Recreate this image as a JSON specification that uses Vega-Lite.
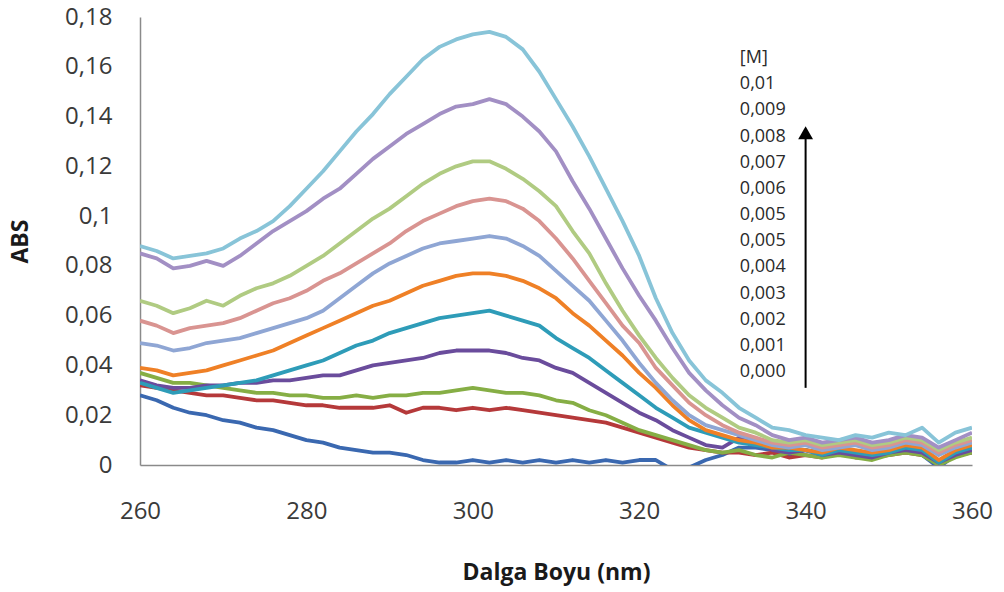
{
"$schema": "https://vega.github.io/schema/vega-lite/v6.json",
"width": 832, "height": 448,
"autosize": {"type": "none"},
"padding": {"left": 140, "top": 17, "right": 32, "bottom": 127},
"background": "white",
"config": {"view": {"stroke": null}, "font": "Open Sans"},
"datasets": {
"legend": [
{"rank":0,"label":"[M]"},{"rank":1,"label":"0,01"},{"rank":2,"label":"0,009"},{"rank":3,"label":"0,008"},{"rank":4,"label":"0,007"},{"rank":5,"label":"0,006"},{"rank":6,"label":"0,005"},{"rank":7,"label":"0,005"},{"rank":8,"label":"0,004"},{"rank":9,"label":"0,003"},{"rank":10,"label":"0,002"},{"rank":11,"label":"0,001"},{"rank":12,"label":"0,000"}
],
"spectra": [
{"c":"c0","nm":260,"abs":0.028},{"c":"c0","nm":262,"abs":0.026},{"c":"c0","nm":264,"abs":0.023},{"c":"c0","nm":266,"abs":0.021},{"c":"c0","nm":268,"abs":0.020},{"c":"c0","nm":270,"abs":0.018},{"c":"c0","nm":272,"abs":0.017},{"c":"c0","nm":274,"abs":0.015},{"c":"c0","nm":276,"abs":0.014},{"c":"c0","nm":278,"abs":0.012},{"c":"c0","nm":280,"abs":0.010},{"c":"c0","nm":282,"abs":0.009},{"c":"c0","nm":284,"abs":0.007},{"c":"c0","nm":286,"abs":0.006},{"c":"c0","nm":288,"abs":0.005},{"c":"c0","nm":290,"abs":0.005},{"c":"c0","nm":292,"abs":0.004},{"c":"c0","nm":294,"abs":0.002},{"c":"c0","nm":296,"abs":0.001},{"c":"c0","nm":298,"abs":0.001},{"c":"c0","nm":300,"abs":0.002},{"c":"c0","nm":302,"abs":0.001},{"c":"c0","nm":304,"abs":0.002},{"c":"c0","nm":306,"abs":0.001},{"c":"c0","nm":308,"abs":0.002},{"c":"c0","nm":310,"abs":0.001},{"c":"c0","nm":312,"abs":0.002},{"c":"c0","nm":314,"abs":0.001},{"c":"c0","nm":316,"abs":0.002},{"c":"c0","nm":318,"abs":0.001},{"c":"c0","nm":320,"abs":0.002},{"c":"c0","nm":322,"abs":0.002},{"c":"c0","nm":324,"abs":-0.002},{"c":"c0","nm":326,"abs":-0.001},{"c":"c0","nm":328,"abs":0.002},{"c":"c0","nm":330,"abs":0.004},{"c":"c0","nm":332,"abs":0.007},{"c":"c0","nm":334,"abs":0.007},{"c":"c0","nm":336,"abs":0.006},{"c":"c0","nm":338,"abs":0.004},{"c":"c0","nm":340,"abs":0.006},{"c":"c0","nm":342,"abs":0.005},{"c":"c0","nm":344,"abs":0.004},{"c":"c0","nm":346,"abs":0.005},{"c":"c0","nm":348,"abs":0.004},{"c":"c0","nm":350,"abs":0.005},{"c":"c0","nm":352,"abs":0.006},{"c":"c0","nm":354,"abs":0.004},{"c":"c0","nm":356,"abs":-0.001},{"c":"c0","nm":358,"abs":0.004},{"c":"c0","nm":360,"abs":0.005},
{"c":"c1","nm":260,"abs":0.032},{"c":"c1","nm":262,"abs":0.031},{"c":"c1","nm":264,"abs":0.030},{"c":"c1","nm":266,"abs":0.029},{"c":"c1","nm":268,"abs":0.028},{"c":"c1","nm":270,"abs":0.028},{"c":"c1","nm":272,"abs":0.027},{"c":"c1","nm":274,"abs":0.026},{"c":"c1","nm":276,"abs":0.026},{"c":"c1","nm":278,"abs":0.025},{"c":"c1","nm":280,"abs":0.024},{"c":"c1","nm":282,"abs":0.024},{"c":"c1","nm":284,"abs":0.023},{"c":"c1","nm":286,"abs":0.023},{"c":"c1","nm":288,"abs":0.023},{"c":"c1","nm":290,"abs":0.024},{"c":"c1","nm":292,"abs":0.021},{"c":"c1","nm":294,"abs":0.023},{"c":"c1","nm":296,"abs":0.023},{"c":"c1","nm":298,"abs":0.022},{"c":"c1","nm":300,"abs":0.023},{"c":"c1","nm":302,"abs":0.022},{"c":"c1","nm":304,"abs":0.023},{"c":"c1","nm":306,"abs":0.022},{"c":"c1","nm":308,"abs":0.021},{"c":"c1","nm":310,"abs":0.020},{"c":"c1","nm":312,"abs":0.019},{"c":"c1","nm":314,"abs":0.018},{"c":"c1","nm":316,"abs":0.017},{"c":"c1","nm":318,"abs":0.015},{"c":"c1","nm":320,"abs":0.013},{"c":"c1","nm":322,"abs":0.011},{"c":"c1","nm":324,"abs":0.009},{"c":"c1","nm":326,"abs":0.007},{"c":"c1","nm":328,"abs":0.006},{"c":"c1","nm":330,"abs":0.005},{"c":"c1","nm":332,"abs":0.005},{"c":"c1","nm":334,"abs":0.004},{"c":"c1","nm":336,"abs":0.005},{"c":"c1","nm":338,"abs":0.003},{"c":"c1","nm":340,"abs":0.004},{"c":"c1","nm":342,"abs":0.003},{"c":"c1","nm":344,"abs":0.005},{"c":"c1","nm":346,"abs":0.003},{"c":"c1","nm":348,"abs":0.003},{"c":"c1","nm":350,"abs":0.004},{"c":"c1","nm":352,"abs":0.005},{"c":"c1","nm":354,"abs":0.004},{"c":"c1","nm":356,"abs":0.001},{"c":"c1","nm":358,"abs":0.004},{"c":"c1","nm":360,"abs":0.005},
{"c":"c2","nm":260,"abs":0.037},{"c":"c2","nm":262,"abs":0.035},{"c":"c2","nm":264,"abs":0.033},{"c":"c2","nm":266,"abs":0.033},{"c":"c2","nm":268,"abs":0.032},{"c":"c2","nm":270,"abs":0.031},{"c":"c2","nm":272,"abs":0.030},{"c":"c2","nm":274,"abs":0.029},{"c":"c2","nm":276,"abs":0.029},{"c":"c2","nm":278,"abs":0.028},{"c":"c2","nm":280,"abs":0.028},{"c":"c2","nm":282,"abs":0.027},{"c":"c2","nm":284,"abs":0.027},{"c":"c2","nm":286,"abs":0.028},{"c":"c2","nm":288,"abs":0.027},{"c":"c2","nm":290,"abs":0.028},{"c":"c2","nm":292,"abs":0.028},{"c":"c2","nm":294,"abs":0.029},{"c":"c2","nm":296,"abs":0.029},{"c":"c2","nm":298,"abs":0.030},{"c":"c2","nm":300,"abs":0.031},{"c":"c2","nm":302,"abs":0.030},{"c":"c2","nm":304,"abs":0.029},{"c":"c2","nm":306,"abs":0.029},{"c":"c2","nm":308,"abs":0.028},{"c":"c2","nm":310,"abs":0.026},{"c":"c2","nm":312,"abs":0.025},{"c":"c2","nm":314,"abs":0.022},{"c":"c2","nm":316,"abs":0.020},{"c":"c2","nm":318,"abs":0.017},{"c":"c2","nm":320,"abs":0.014},{"c":"c2","nm":322,"abs":0.012},{"c":"c2","nm":324,"abs":0.010},{"c":"c2","nm":326,"abs":0.008},{"c":"c2","nm":328,"abs":0.006},{"c":"c2","nm":330,"abs":0.005},{"c":"c2","nm":332,"abs":0.006},{"c":"c2","nm":334,"abs":0.004},{"c":"c2","nm":336,"abs":0.003},{"c":"c2","nm":338,"abs":0.005},{"c":"c2","nm":340,"abs":0.004},{"c":"c2","nm":342,"abs":0.003},{"c":"c2","nm":344,"abs":0.004},{"c":"c2","nm":346,"abs":0.003},{"c":"c2","nm":348,"abs":0.002},{"c":"c2","nm":350,"abs":0.004},{"c":"c2","nm":352,"abs":0.005},{"c":"c2","nm":354,"abs":0.004},{"c":"c2","nm":356,"abs":0.000},{"c":"c2","nm":358,"abs":0.003},{"c":"c2","nm":360,"abs":0.005},
{"c":"c3","nm":260,"abs":0.034},{"c":"c3","nm":262,"abs":0.032},{"c":"c3","nm":264,"abs":0.031},{"c":"c3","nm":266,"abs":0.031},{"c":"c3","nm":268,"abs":0.032},{"c":"c3","nm":270,"abs":0.032},{"c":"c3","nm":272,"abs":0.033},{"c":"c3","nm":274,"abs":0.033},{"c":"c3","nm":276,"abs":0.034},{"c":"c3","nm":278,"abs":0.034},{"c":"c3","nm":280,"abs":0.035},{"c":"c3","nm":282,"abs":0.036},{"c":"c3","nm":284,"abs":0.036},{"c":"c3","nm":286,"abs":0.038},{"c":"c3","nm":288,"abs":0.040},{"c":"c3","nm":290,"abs":0.041},{"c":"c3","nm":292,"abs":0.042},{"c":"c3","nm":294,"abs":0.043},{"c":"c3","nm":296,"abs":0.045},{"c":"c3","nm":298,"abs":0.046},{"c":"c3","nm":300,"abs":0.046},{"c":"c3","nm":302,"abs":0.046},{"c":"c3","nm":304,"abs":0.045},{"c":"c3","nm":306,"abs":0.043},{"c":"c3","nm":308,"abs":0.042},{"c":"c3","nm":310,"abs":0.039},{"c":"c3","nm":312,"abs":0.037},{"c":"c3","nm":314,"abs":0.033},{"c":"c3","nm":316,"abs":0.029},{"c":"c3","nm":318,"abs":0.025},{"c":"c3","nm":320,"abs":0.021},{"c":"c3","nm":322,"abs":0.018},{"c":"c3","nm":324,"abs":0.014},{"c":"c3","nm":326,"abs":0.011},{"c":"c3","nm":328,"abs":0.008},{"c":"c3","nm":330,"abs":0.007},{"c":"c3","nm":332,"abs":0.011},{"c":"c3","nm":334,"abs":0.009},{"c":"c3","nm":336,"abs":0.006},{"c":"c3","nm":338,"abs":0.005},{"c":"c3","nm":340,"abs":0.006},{"c":"c3","nm":342,"abs":0.004},{"c":"c3","nm":344,"abs":0.005},{"c":"c3","nm":346,"abs":0.004},{"c":"c3","nm":348,"abs":0.003},{"c":"c3","nm":350,"abs":0.005},{"c":"c3","nm":352,"abs":0.006},{"c":"c3","nm":354,"abs":0.005},{"c":"c3","nm":356,"abs":0.001},{"c":"c3","nm":358,"abs":0.004},{"c":"c3","nm":360,"abs":0.006},
{"c":"c4","nm":260,"abs":0.033},{"c":"c4","nm":262,"abs":0.031},{"c":"c4","nm":264,"abs":0.029},{"c":"c4","nm":266,"abs":0.030},{"c":"c4","nm":268,"abs":0.031},{"c":"c4","nm":270,"abs":0.032},{"c":"c4","nm":272,"abs":0.033},{"c":"c4","nm":274,"abs":0.034},{"c":"c4","nm":276,"abs":0.036},{"c":"c4","nm":278,"abs":0.038},{"c":"c4","nm":280,"abs":0.040},{"c":"c4","nm":282,"abs":0.042},{"c":"c4","nm":284,"abs":0.045},{"c":"c4","nm":286,"abs":0.048},{"c":"c4","nm":288,"abs":0.050},{"c":"c4","nm":290,"abs":0.053},{"c":"c4","nm":292,"abs":0.055},{"c":"c4","nm":294,"abs":0.057},{"c":"c4","nm":296,"abs":0.059},{"c":"c4","nm":298,"abs":0.060},{"c":"c4","nm":300,"abs":0.061},{"c":"c4","nm":302,"abs":0.062},{"c":"c4","nm":304,"abs":0.060},{"c":"c4","nm":306,"abs":0.058},{"c":"c4","nm":308,"abs":0.056},{"c":"c4","nm":310,"abs":0.051},{"c":"c4","nm":312,"abs":0.047},{"c":"c4","nm":314,"abs":0.043},{"c":"c4","nm":316,"abs":0.038},{"c":"c4","nm":318,"abs":0.033},{"c":"c4","nm":320,"abs":0.028},{"c":"c4","nm":322,"abs":0.023},{"c":"c4","nm":324,"abs":0.019},{"c":"c4","nm":326,"abs":0.015},{"c":"c4","nm":328,"abs":0.013},{"c":"c4","nm":330,"abs":0.011},{"c":"c4","nm":332,"abs":0.009},{"c":"c4","nm":334,"abs":0.008},{"c":"c4","nm":336,"abs":0.007},{"c":"c4","nm":338,"abs":0.006},{"c":"c4","nm":340,"abs":0.006},{"c":"c4","nm":342,"abs":0.004},{"c":"c4","nm":344,"abs":0.006},{"c":"c4","nm":346,"abs":0.005},{"c":"c4","nm":348,"abs":0.004},{"c":"c4","nm":350,"abs":0.005},{"c":"c4","nm":352,"abs":0.007},{"c":"c4","nm":354,"abs":0.006},{"c":"c4","nm":356,"abs":0.001},{"c":"c4","nm":358,"abs":0.005},{"c":"c4","nm":360,"abs":0.007},
{"c":"c5","nm":260,"abs":0.039},{"c":"c5","nm":262,"abs":0.038},{"c":"c5","nm":264,"abs":0.036},{"c":"c5","nm":266,"abs":0.037},{"c":"c5","nm":268,"abs":0.038},{"c":"c5","nm":270,"abs":0.040},{"c":"c5","nm":272,"abs":0.042},{"c":"c5","nm":274,"abs":0.044},{"c":"c5","nm":276,"abs":0.046},{"c":"c5","nm":278,"abs":0.049},{"c":"c5","nm":280,"abs":0.052},{"c":"c5","nm":282,"abs":0.055},{"c":"c5","nm":284,"abs":0.058},{"c":"c5","nm":286,"abs":0.061},{"c":"c5","nm":288,"abs":0.064},{"c":"c5","nm":290,"abs":0.066},{"c":"c5","nm":292,"abs":0.069},{"c":"c5","nm":294,"abs":0.072},{"c":"c5","nm":296,"abs":0.074},{"c":"c5","nm":298,"abs":0.076},{"c":"c5","nm":300,"abs":0.077},{"c":"c5","nm":302,"abs":0.077},{"c":"c5","nm":304,"abs":0.076},{"c":"c5","nm":306,"abs":0.074},{"c":"c5","nm":308,"abs":0.071},{"c":"c5","nm":310,"abs":0.067},{"c":"c5","nm":312,"abs":0.061},{"c":"c5","nm":314,"abs":0.056},{"c":"c5","nm":316,"abs":0.050},{"c":"c5","nm":318,"abs":0.044},{"c":"c5","nm":320,"abs":0.037},{"c":"c5","nm":322,"abs":0.031},{"c":"c5","nm":324,"abs":0.024},{"c":"c5","nm":326,"abs":0.018},{"c":"c5","nm":328,"abs":0.014},{"c":"c5","nm":330,"abs":0.012},{"c":"c5","nm":332,"abs":0.010},{"c":"c5","nm":334,"abs":0.009},{"c":"c5","nm":336,"abs":0.007},{"c":"c5","nm":338,"abs":0.007},{"c":"c5","nm":340,"abs":0.006},{"c":"c5","nm":342,"abs":0.005},{"c":"c5","nm":344,"abs":0.007},{"c":"c5","nm":346,"abs":0.006},{"c":"c5","nm":348,"abs":0.005},{"c":"c5","nm":350,"abs":0.006},{"c":"c5","nm":352,"abs":0.008},{"c":"c5","nm":354,"abs":0.007},{"c":"c5","nm":356,"abs":0.002},{"c":"c5","nm":358,"abs":0.006},{"c":"c5","nm":360,"abs":0.008},
{"c":"c6","nm":260,"abs":0.049},{"c":"c6","nm":262,"abs":0.048},{"c":"c6","nm":264,"abs":0.046},{"c":"c6","nm":266,"abs":0.047},{"c":"c6","nm":268,"abs":0.049},{"c":"c6","nm":270,"abs":0.050},{"c":"c6","nm":272,"abs":0.051},{"c":"c6","nm":274,"abs":0.053},{"c":"c6","nm":276,"abs":0.055},{"c":"c6","nm":278,"abs":0.057},{"c":"c6","nm":280,"abs":0.059},{"c":"c6","nm":282,"abs":0.062},{"c":"c6","nm":284,"abs":0.067},{"c":"c6","nm":286,"abs":0.072},{"c":"c6","nm":288,"abs":0.077},{"c":"c6","nm":290,"abs":0.081},{"c":"c6","nm":292,"abs":0.084},{"c":"c6","nm":294,"abs":0.087},{"c":"c6","nm":296,"abs":0.089},{"c":"c6","nm":298,"abs":0.090},{"c":"c6","nm":300,"abs":0.091},{"c":"c6","nm":302,"abs":0.092},{"c":"c6","nm":304,"abs":0.091},{"c":"c6","nm":306,"abs":0.088},{"c":"c6","nm":308,"abs":0.084},{"c":"c6","nm":310,"abs":0.078},{"c":"c6","nm":312,"abs":0.072},{"c":"c6","nm":314,"abs":0.066},{"c":"c6","nm":316,"abs":0.058},{"c":"c6","nm":318,"abs":0.050},{"c":"c6","nm":320,"abs":0.041},{"c":"c6","nm":322,"abs":0.033},{"c":"c6","nm":324,"abs":0.026},{"c":"c6","nm":326,"abs":0.020},{"c":"c6","nm":328,"abs":0.016},{"c":"c6","nm":330,"abs":0.014},{"c":"c6","nm":332,"abs":0.012},{"c":"c6","nm":334,"abs":0.010},{"c":"c6","nm":336,"abs":0.008},{"c":"c6","nm":338,"abs":0.007},{"c":"c6","nm":340,"abs":0.008},{"c":"c6","nm":342,"abs":0.006},{"c":"c6","nm":344,"abs":0.007},{"c":"c6","nm":346,"abs":0.008},{"c":"c6","nm":348,"abs":0.006},{"c":"c6","nm":350,"abs":0.007},{"c":"c6","nm":352,"abs":0.009},{"c":"c6","nm":354,"abs":0.008},{"c":"c6","nm":356,"abs":0.004},{"c":"c6","nm":358,"abs":0.007},{"c":"c6","nm":360,"abs":0.009},
{"c":"c7","nm":260,"abs":0.058},{"c":"c7","nm":262,"abs":0.056},{"c":"c7","nm":264,"abs":0.053},{"c":"c7","nm":266,"abs":0.055},{"c":"c7","nm":268,"abs":0.056},{"c":"c7","nm":270,"abs":0.057},{"c":"c7","nm":272,"abs":0.059},{"c":"c7","nm":274,"abs":0.062},{"c":"c7","nm":276,"abs":0.065},{"c":"c7","nm":278,"abs":0.067},{"c":"c7","nm":280,"abs":0.070},{"c":"c7","nm":282,"abs":0.074},{"c":"c7","nm":284,"abs":0.077},{"c":"c7","nm":286,"abs":0.081},{"c":"c7","nm":288,"abs":0.085},{"c":"c7","nm":290,"abs":0.089},{"c":"c7","nm":292,"abs":0.094},{"c":"c7","nm":294,"abs":0.098},{"c":"c7","nm":296,"abs":0.101},{"c":"c7","nm":298,"abs":0.104},{"c":"c7","nm":300,"abs":0.106},{"c":"c7","nm":302,"abs":0.107},{"c":"c7","nm":304,"abs":0.106},{"c":"c7","nm":306,"abs":0.103},{"c":"c7","nm":308,"abs":0.098},{"c":"c7","nm":310,"abs":0.091},{"c":"c7","nm":312,"abs":0.083},{"c":"c7","nm":314,"abs":0.074},{"c":"c7","nm":316,"abs":0.065},{"c":"c7","nm":318,"abs":0.056},{"c":"c7","nm":320,"abs":0.049},{"c":"c7","nm":322,"abs":0.039},{"c":"c7","nm":324,"abs":0.032},{"c":"c7","nm":326,"abs":0.025},{"c":"c7","nm":328,"abs":0.020},{"c":"c7","nm":330,"abs":0.016},{"c":"c7","nm":332,"abs":0.013},{"c":"c7","nm":334,"abs":0.011},{"c":"c7","nm":336,"abs":0.009},{"c":"c7","nm":338,"abs":0.008},{"c":"c7","nm":340,"abs":0.009},{"c":"c7","nm":342,"abs":0.007},{"c":"c7","nm":344,"abs":0.008},{"c":"c7","nm":346,"abs":0.009},{"c":"c7","nm":348,"abs":0.007},{"c":"c7","nm":350,"abs":0.008},{"c":"c7","nm":352,"abs":0.010},{"c":"c7","nm":354,"abs":0.009},{"c":"c7","nm":356,"abs":0.005},{"c":"c7","nm":358,"abs":0.008},{"c":"c7","nm":360,"abs":0.010},
{"c":"c8","nm":260,"abs":0.066},{"c":"c8","nm":262,"abs":0.064},{"c":"c8","nm":264,"abs":0.061},{"c":"c8","nm":266,"abs":0.063},{"c":"c8","nm":268,"abs":0.066},{"c":"c8","nm":270,"abs":0.064},{"c":"c8","nm":272,"abs":0.068},{"c":"c8","nm":274,"abs":0.071},{"c":"c8","nm":276,"abs":0.073},{"c":"c8","nm":278,"abs":0.076},{"c":"c8","nm":280,"abs":0.080},{"c":"c8","nm":282,"abs":0.084},{"c":"c8","nm":284,"abs":0.089},{"c":"c8","nm":286,"abs":0.094},{"c":"c8","nm":288,"abs":0.099},{"c":"c8","nm":290,"abs":0.103},{"c":"c8","nm":292,"abs":0.108},{"c":"c8","nm":294,"abs":0.113},{"c":"c8","nm":296,"abs":0.117},{"c":"c8","nm":298,"abs":0.120},{"c":"c8","nm":300,"abs":0.122},{"c":"c8","nm":302,"abs":0.122},{"c":"c8","nm":304,"abs":0.119},{"c":"c8","nm":306,"abs":0.115},{"c":"c8","nm":308,"abs":0.110},{"c":"c8","nm":310,"abs":0.104},{"c":"c8","nm":312,"abs":0.094},{"c":"c8","nm":314,"abs":0.085},{"c":"c8","nm":316,"abs":0.073},{"c":"c8","nm":318,"abs":0.062},{"c":"c8","nm":320,"abs":0.052},{"c":"c8","nm":322,"abs":0.043},{"c":"c8","nm":324,"abs":0.035},{"c":"c8","nm":326,"abs":0.028},{"c":"c8","nm":328,"abs":0.023},{"c":"c8","nm":330,"abs":0.019},{"c":"c8","nm":332,"abs":0.015},{"c":"c8","nm":334,"abs":0.013},{"c":"c8","nm":336,"abs":0.010},{"c":"c8","nm":338,"abs":0.009},{"c":"c8","nm":340,"abs":0.010},{"c":"c8","nm":342,"abs":0.008},{"c":"c8","nm":344,"abs":0.009},{"c":"c8","nm":346,"abs":0.010},{"c":"c8","nm":348,"abs":0.008},{"c":"c8","nm":350,"abs":0.009},{"c":"c8","nm":352,"abs":0.011},{"c":"c8","nm":354,"abs":0.010},{"c":"c8","nm":356,"abs":0.006},{"c":"c8","nm":358,"abs":0.009},{"c":"c8","nm":360,"abs":0.011},
{"c":"c9","nm":260,"abs":0.085},{"c":"c9","nm":262,"abs":0.083},{"c":"c9","nm":264,"abs":0.079},{"c":"c9","nm":266,"abs":0.080},{"c":"c9","nm":268,"abs":0.082},{"c":"c9","nm":270,"abs":0.080},{"c":"c9","nm":272,"abs":0.084},{"c":"c9","nm":274,"abs":0.089},{"c":"c9","nm":276,"abs":0.094},{"c":"c9","nm":278,"abs":0.098},{"c":"c9","nm":280,"abs":0.102},{"c":"c9","nm":282,"abs":0.107},{"c":"c9","nm":284,"abs":0.111},{"c":"c9","nm":286,"abs":0.117},{"c":"c9","nm":288,"abs":0.123},{"c":"c9","nm":290,"abs":0.128},{"c":"c9","nm":292,"abs":0.133},{"c":"c9","nm":294,"abs":0.137},{"c":"c9","nm":296,"abs":0.141},{"c":"c9","nm":298,"abs":0.144},{"c":"c9","nm":300,"abs":0.145},{"c":"c9","nm":302,"abs":0.147},{"c":"c9","nm":304,"abs":0.145},{"c":"c9","nm":306,"abs":0.140},{"c":"c9","nm":308,"abs":0.134},{"c":"c9","nm":310,"abs":0.126},{"c":"c9","nm":312,"abs":0.114},{"c":"c9","nm":314,"abs":0.103},{"c":"c9","nm":316,"abs":0.091},{"c":"c9","nm":318,"abs":0.079},{"c":"c9","nm":320,"abs":0.068},{"c":"c9","nm":322,"abs":0.058},{"c":"c9","nm":324,"abs":0.047},{"c":"c9","nm":326,"abs":0.037},{"c":"c9","nm":328,"abs":0.030},{"c":"c9","nm":330,"abs":0.024},{"c":"c9","nm":332,"abs":0.019},{"c":"c9","nm":334,"abs":0.016},{"c":"c9","nm":336,"abs":0.012},{"c":"c9","nm":338,"abs":0.010},{"c":"c9","nm":340,"abs":0.011},{"c":"c9","nm":342,"abs":0.009},{"c":"c9","nm":344,"abs":0.010},{"c":"c9","nm":346,"abs":0.011},{"c":"c9","nm":348,"abs":0.009},{"c":"c9","nm":350,"abs":0.010},{"c":"c9","nm":352,"abs":0.012},{"c":"c9","nm":354,"abs":0.011},{"c":"c9","nm":356,"abs":0.007},{"c":"c9","nm":358,"abs":0.010},{"c":"c9","nm":360,"abs":0.013},
{"c":"c10","nm":260,"abs":0.088},{"c":"c10","nm":262,"abs":0.086},{"c":"c10","nm":264,"abs":0.083},{"c":"c10","nm":266,"abs":0.084},{"c":"c10","nm":268,"abs":0.085},{"c":"c10","nm":270,"abs":0.087},{"c":"c10","nm":272,"abs":0.091},{"c":"c10","nm":274,"abs":0.094},{"c":"c10","nm":276,"abs":0.098},{"c":"c10","nm":278,"abs":0.104},{"c":"c10","nm":280,"abs":0.111},{"c":"c10","nm":282,"abs":0.118},{"c":"c10","nm":284,"abs":0.126},{"c":"c10","nm":286,"abs":0.134},{"c":"c10","nm":288,"abs":0.141},{"c":"c10","nm":290,"abs":0.149},{"c":"c10","nm":292,"abs":0.156},{"c":"c10","nm":294,"abs":0.163},{"c":"c10","nm":296,"abs":0.168},{"c":"c10","nm":298,"abs":0.171},{"c":"c10","nm":300,"abs":0.173},{"c":"c10","nm":302,"abs":0.174},{"c":"c10","nm":304,"abs":0.172},{"c":"c10","nm":306,"abs":0.167},{"c":"c10","nm":308,"abs":0.158},{"c":"c10","nm":310,"abs":0.147},{"c":"c10","nm":312,"abs":0.136},{"c":"c10","nm":314,"abs":0.124},{"c":"c10","nm":316,"abs":0.111},{"c":"c10","nm":318,"abs":0.098},{"c":"c10","nm":320,"abs":0.084},{"c":"c10","nm":322,"abs":0.067},{"c":"c10","nm":324,"abs":0.053},{"c":"c10","nm":326,"abs":0.042},{"c":"c10","nm":328,"abs":0.034},{"c":"c10","nm":330,"abs":0.029},{"c":"c10","nm":332,"abs":0.023},{"c":"c10","nm":334,"abs":0.019},{"c":"c10","nm":336,"abs":0.015},{"c":"c10","nm":338,"abs":0.014},{"c":"c10","nm":340,"abs":0.012},{"c":"c10","nm":342,"abs":0.011},{"c":"c10","nm":344,"abs":0.010},{"c":"c10","nm":346,"abs":0.012},{"c":"c10","nm":348,"abs":0.011},{"c":"c10","nm":350,"abs":0.013},{"c":"c10","nm":352,"abs":0.012},{"c":"c10","nm":354,"abs":0.015},{"c":"c10","nm":356,"abs":0.009},{"c":"c10","nm":358,"abs":0.013},{"c":"c10","nm":360,"abs":0.015}
]
},
"layer": [
{
"layer": [
{
"data": {"name": "spectra"},
"mark": {"type": "line", "strokeWidth": 3.8, "clip": true, "strokeJoin": "round"},
"encoding": {
"x": {"field": "nm", "type": "quantitative",
"scale": {"domain": [260, 360], "nice": false, "zero": false},
"axis": {"values": [260, 280, 300, 320, 340, 360], "title": "Dalga Boyu (nm)", "grid": false, "ticks": false, "tickSize": 0, "labelFlush": false, "labelOverlap": false,
"domainColor": "#8a8a8a", "domainWidth": 1.5, "labelFont": "Open Sans", "labelFontSize": 24, "labelColor": "#3a3a3a", "labelPadding": 34,
"titleFont": "Open Sans", "titleFontSize": 23, "titleFontWeight": "bold", "titleColor": "#1a1a1a", "titlePadding": 38}},
"y": {"field": "abs", "type": "quantitative",
"scale": {"domain": [0, 0.18], "nice": false},
"axis": {"values": [0, 0.02, 0.04, 0.06, 0.08, 0.1, 0.12, 0.14, 0.16, 0.18], "format": "~g", "labelExpr": "replace(datum.label, '.', ',')",
"title": "ABS", "grid": false, "ticks": false, "tickSize": 0, "labelFlush": false, "labelOverlap": false,
"domainColor": "#8a8a8a", "domainWidth": 1.5, "labelFont": "Open Sans", "labelFontSize": 24, "labelColor": "#3a3a3a", "labelPadding": 28,
"titleFont": "Open Sans", "titleFontSize": 23, "titleFontWeight": "bold", "titleColor": "#1a1a1a", "titlePadding": 32}},
"color": {"field": "c", "type": "nominal", "legend": null,
"scale": {"domain": ["c0","c1","c2","c3","c4","c5","c6","c7","c8","c9","c10"],
"range": ["#3A68B0","#B5393A","#86AE45","#6A4C9C","#2E9CB8","#EF8026","#8FA6D4","#D99491","#B0CB82","#A28FC4","#88C4D8"]}},
"order": {"field": "nm", "type": "quantitative"}
}
},
{
"data": {"values": [{"item": "arrow"}]},
"mark": {"type": "rule", "color": "black", "strokeWidth": 2},
"encoding": {
"x": {"datum": 340, "type": "quantitative"},
"y": {"datum": 0.031, "type": "quantitative"},
"y2": {"datum": 0.131}
}
},
{
"data": {"values": [{"item": "arrowhead"}]},
"mark": {"type": "point", "shape": "triangle-up", "filled": true, "color": "black", "opacity": 1, "size": 220},
"encoding": {
"x": {"datum": 340, "type": "quantitative"},
"y": {"datum": 0.1335, "type": "quantitative"}
}
}
]
},
{
"data": {"name": "legend"},
"mark": {"type": "text", "align": "left", "baseline": "middle", "font": "Open Sans", "fontSize": 18, "color": "#2a2a2a"},
"encoding": {
"x": {"datum": 332.1, "type": "quantitative"},
"y": {"field": "rank", "type": "quantitative", "scale": {"domain": [-1.567, 15.554], "reverse": true, "nice": false, "zero": false}, "axis": null},
"text": {"field": "label"}
}
}
],
"resolve": {"scale": {"y": "independent"}}
}
